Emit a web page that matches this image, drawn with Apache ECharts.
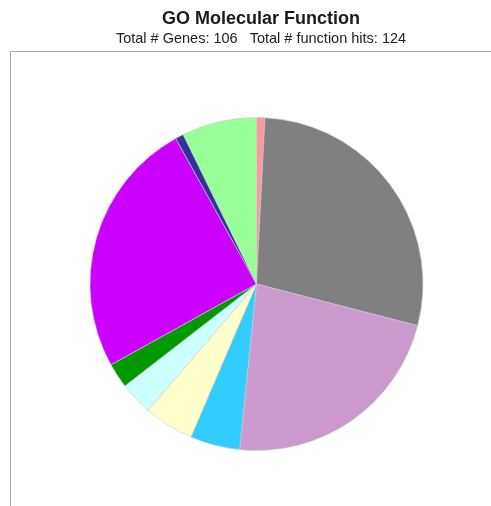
<!DOCTYPE html>
<html>
<head>
<meta charset="utf-8"/>
<title>GO Molecular Function</title>
<script src="https://cdn.jsdelivr.net/npm/echarts@6/dist/echarts.min.js"></script>
<style>
html,body{margin:0;padding:0;background:#fff;}
#main{width:491px;height:506px;}
</style>
</head>
<body>
<div id="main"></div>
<script type="text/javascript">
// slices clockwise from 12 o'clock
var categories = ['c1', 'c2', 'c3', 'c4', 'c5', 'c6', 'c7', 'c8', 'c9', 'c10'];
var hits = [1, 35, 28, 6, 6, 4, 3, 31, 1, 9];
var colors = ['#ff9999', '#808080', '#cc99cc', '#33ccff', '#ffffcc', '#ccffff', '#009900', '#cc00ff', '#333399', '#99ff99'];

var myChart = echarts.init(document.getElementById('main'));
var option = {
	animation: false,
	title: {
		text: 'GO Molecular Function',
		subtext: 'Total # Genes: 106   Total # function hits: 124',
		left: 256,
		textAlign: 'center',
		top: 5,
		itemGap: 3,
		textStyle: {
			fontFamily: 'Liberation Sans',
			fontWeight: 'bold',
			fontSize: 18,
			color: '#1a1a1a'
		},
		subtextStyle: {
			fontFamily: 'Liberation Sans',
			fontSize: 14.5,
			color: '#222'
		}
	},
	graphic: [{
		type: 'polyline',
		shape: { points: [[10.5, 506], [10.5, 51.5], [491, 51.5]] },
		style: { stroke: '#a8a8a8', lineWidth: 1, fill: null }
	}],
	series: [{
		type: 'pie',
		center: [256.5, 284],
		radius: 166.5,
		startAngle: 90,
		clockwise: true,
		label: { show: false },
		labelLine: { show: false },
		emphasis: { disabled: true },
		itemStyle: { borderColor: '#cccccc', borderWidth: 0.6 },
		data: categories.map(function (c, i) {
			return { name: c, value: hits[i], itemStyle: { color: colors[i] } };
		})
	}]
};
myChart.setOption(option);
</script>
</body>
</html>
